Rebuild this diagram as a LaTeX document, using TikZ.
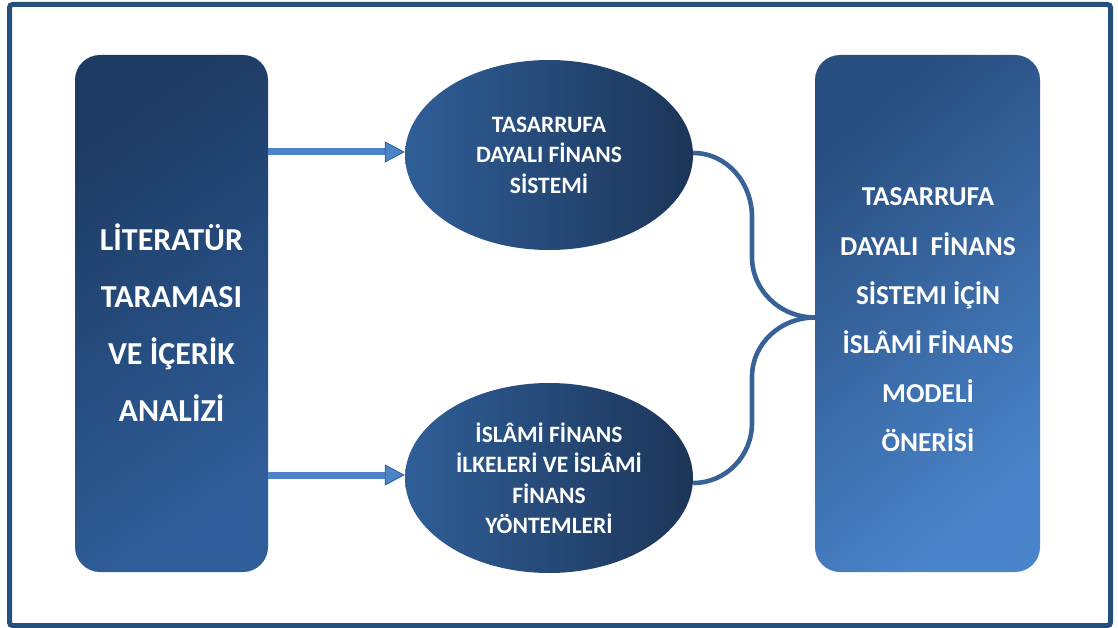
\documentclass[tikz,border=0pt]{standalone}
\usepackage{fontspec}
\setmainfont{Carlito}
\usetikzlibrary{shapes.geometric,arrows.meta}

\definecolor{frameblue}{HTML}{25507D}
\definecolor{navydark}{HTML}{1D3A62}
\definecolor{navylight}{HTML}{2F5E9A}
\definecolor{modeldark}{HTML}{284E7F}
\definecolor{modellight}{HTML}{4A84CA}
\definecolor{ovalleft}{HTML}{2F5E97}
\definecolor{ovalright}{HTML}{1C3558}
\definecolor{arrowfill}{HTML}{4D84C7}
\definecolor{arrowedge}{HTML}{2F5C92}
\definecolor{bracecol}{HTML}{386297}

\begin{document}
\begin{tikzpicture}[x=1pt,y=-1pt,
  frameline/.style={draw=frameblue,line width=5pt,rounded corners=3pt},
  tallbox/.style={rectangle,rounded corners=25pt,minimum height=517pt,inner sep=0pt},
  oval/.style={ellipse,minimum width=288pt,minimum height=190pt,inner sep=0pt,
    left color=ovalleft,right color=ovalright,text=white,align=center,
    font=\fontsize{23.5}{30.5}\selectfont\bfseries},
  boxtext/.style={text=white,align=center,inner sep=0pt},
  flowarrow/.style={draw=arrowfill,line width=7pt,
    -{Triangle[length=20pt,width=21pt,line width=0.8pt,color=arrowedge,fill=arrowfill]}},
  bracecurve/.style={draw=bracecol,line width=4.6pt}
]
\useasboundingbox (0,0) rectangle (1118,628);

% outer frame
\draw[frameline] (9.5,4.5) rectangle (1110.5,625.5);

% left column: literature review
\node[tallbox,minimum width=193pt,top color=navydark,bottom color=navylight,
  shading angle=35] (lit) at (171.5,313.5) {};
\node[boxtext,font=\fontsize{32}{57}\selectfont\bfseries]
  (littext) at (171.5,323) {LİTERATÜR\\TARAMASI\\VE İÇERİK\\ANALİZİ};

% middle column: the two inputs
\node[oval] (saving) at (549,155) {TASARRUFA\\DAYALI FİNANS\\SİSTEMİ};
\node[oval] (islamic) at (549,478) {İSLÂMİ FİNANS\\İLKELERİ VE İSLÂMİ\\FİNANS\\YÖNTEMLERİ};

% right column: the proposed model
\node[tallbox,minimum width=225pt,top color=modeldark,bottom color=modellight,
  shading angle=40] (model) at (927.5,313.5) {};
\node[boxtext,font=\fontsize{27.3}{49.2}\selectfont\bfseries]
  (modeltext) at (928,320) {TASARRUFA\\DAYALI\ \ FİNANS\\SİSTEMI İÇİN\\İSLÂMİ FİNANS\\MODELİ\\ÖNERİSİ};

% arrows from the review to both inputs
\draw[flowarrow] ([yshift=3pt]lit.east |- saving.west) -- ([yshift=3pt]saving.west);
\draw[flowarrow] ([yshift=3pt]lit.east |- islamic.west) -- ([yshift=3pt]islamic.west);

% brace joining both inputs into the model
\coordinate (tip) at ([yshift=-4pt]model.west);
\draw[bracecurve] ([yshift=2pt]saving.east) to[out=0,in=90] (752,217) -- (752,257)
  to[out=-90,in=180] (tip);
\draw[bracecurve] (tip) to[out=180,in=90] (752,377) -- (752,423)
  to[out=-90,in=0] ([yshift=-5pt]islamic.east);
\end{tikzpicture}
\end{document}
